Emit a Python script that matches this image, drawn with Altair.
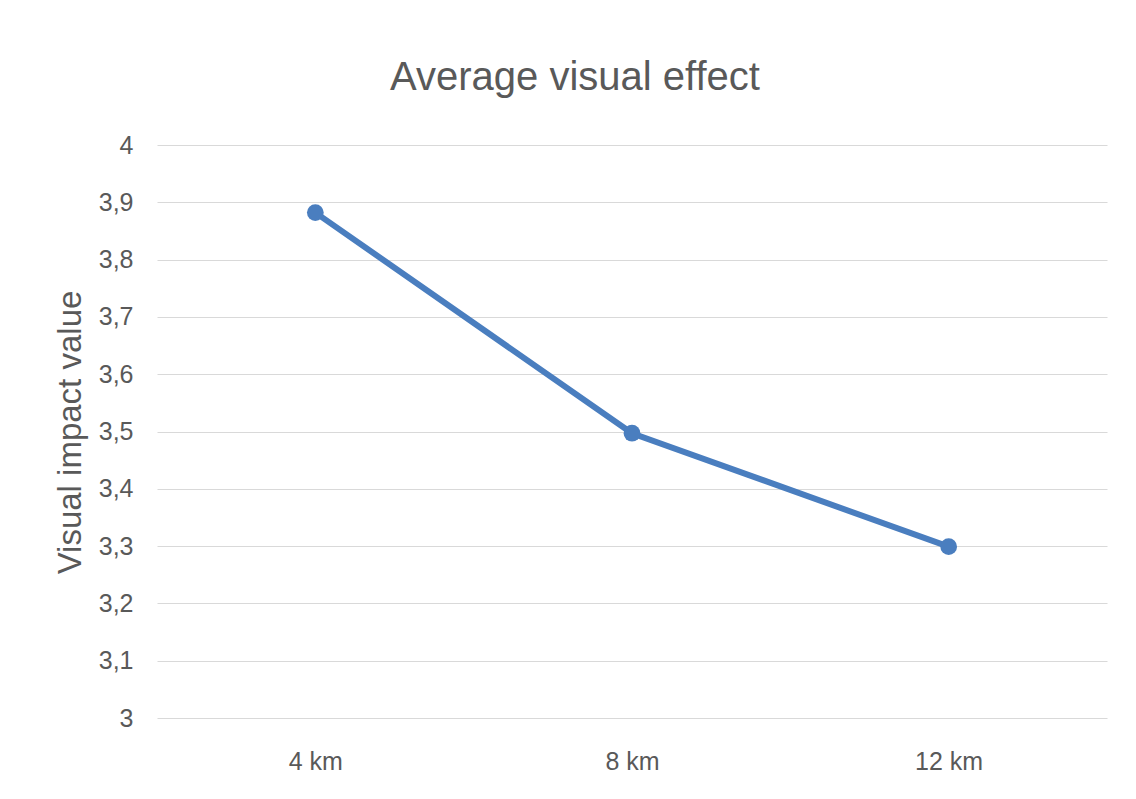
import altair as alt
import pandas as pd

categories = ["4 km", "8 km", "12 km"]
values = [3.882, 3.497, 3.299]
y_ticks = [3.0, 3.1, 3.2, 3.3, 3.4, 3.5, 3.6, 3.7, 3.8, 3.9, 4.0]

df = pd.DataFrame({"distance": categories, "value": values})

FONT = "Liberation Sans, Arial, sans-serif"
GREY = "#595959"
BLUE = "#4a7ebf"

x = alt.X("distance:N", sort=categories,
          scale=alt.Scale(paddingInner=0, paddingOuter=0),
          axis=alt.Axis(title=None, labelAngle=0, ticks=False, domain=False,
                        labelFontSize=25, labelColor=GREY, labelFont=FONT,
                        labelPadding=31, grid=False))
y = alt.Y("value:Q", scale=alt.Scale(domain=[3, 4], zero=False, nice=False),
          axis=alt.Axis(values=y_ticks, title="Visual impact value",
                        labelExpr="replace(format(datum.value, '.1~f'), '.', ',')",
                        ticks=False, domain=False, labelFontSize=25,
                        labelColor=GREY, labelFont=FONT, labelPadding=24,
                        gridColor="#d9d9d9", gridWidth=1,
                        titleFontSize=33, titleColor=GREY, titleFont=FONT,
                        titleFontWeight="normal", titleAngle=-90,
                        titleX=-87, titleY=287, titleAlign="center",
                        titleBaseline="middle"))

line = alt.Chart(df).mark_line(color=BLUE, strokeWidth=6).encode(x=x, y=y)
pts = alt.Chart(df).mark_point(filled=True, color=BLUE, size=280, opacity=1).encode(x=x, y=y)

chart = (line + pts).properties(
    width=950, height=573,
    title=alt.TitleParams("Average visual effect", fontSize=40, font=FONT,
                          color=GREY, fontWeight="normal", anchor="middle",
                          baseline="bottom", offset=1, dx=-57, dy=6),
    autosize=alt.AutoSizeParams(type="none"),
    padding={"left": 149, "top": 137, "right": 21, "bottom": 73},
).configure(background="white", view=alt.ViewConfig(stroke=None))

chart.save("out.html", embed_options={"renderer": "svg", "actions": False})
